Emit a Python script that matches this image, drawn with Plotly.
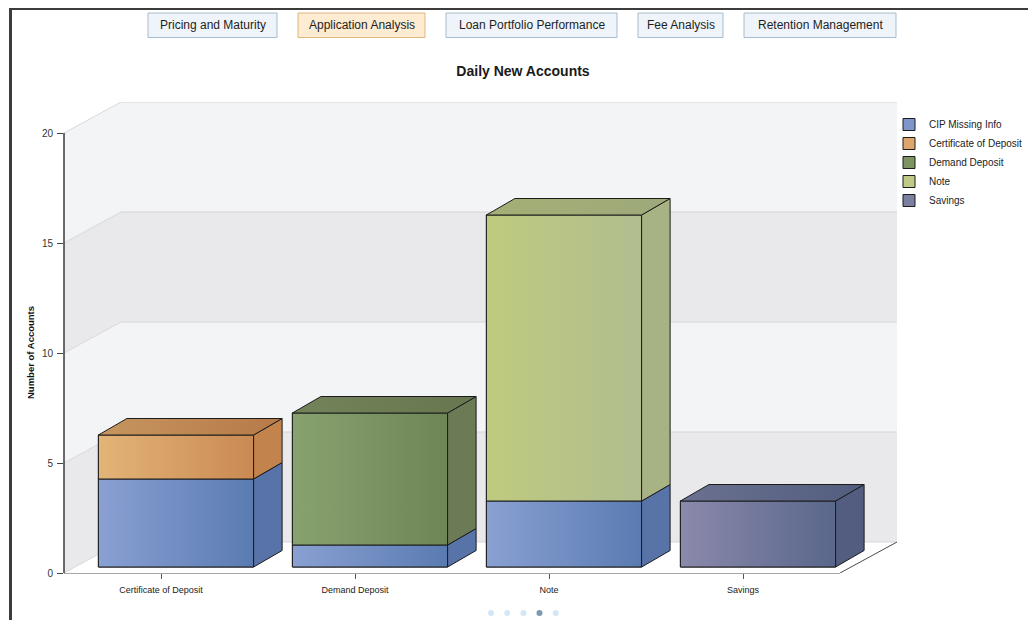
import plotly.graph_objects as go

# ---------------- data ----------------
categories = ["Certificate of Deposit", "Demand Deposit", "Note", "Savings"]
series_names = ["CIP Missing Info", "Certificate of Deposit", "Demand Deposit", "Note", "Savings"]
cip_missing_info = [4, 1, 3, 0]
certificate_of_deposit = [2, 0, 0, 0]
demand_deposit = [0, 6, 0, 0]
note = [0, 0, 13, 0]
savings = [0, 0, 0, 3]
y_ticks = [0, 5, 10, 15, 20]
nav_buttons = ["Pricing and Maturity", "Application Analysis", "Loan Portfolio Performance",
               "Fee Analysis", "Retention Management"]
active_button = "Application Analysis"
chart_title = "Daily New Accounts"
y_title = "Number of Accounts"

series_values = [cip_missing_info, certificate_of_deposit, demand_deposit, note, savings]

# ---------------- styles ----------------
styles = {
    "CIP Missing Info": dict(legend="#7f96cc", front=("#8aa0d3", "#5a7bb1"), side="#5873a7",
                             top=("#7d93c6", "#5b76aa")),
    "Certificate of Deposit": dict(legend="#dea56c", front=("#e3b478", "#ca8953"), side="#c3834d",
                                   top=("#c6955f", "#b67a48")),
    "Demand Deposit": dict(legend="#7b9462", front=("#88a26f", "#6e8556"), side="#6b7b55",
                           top=("#73845b", "#66774f")),
    "Note": dict(legend="#c0ca86", front=("#becb7e", "#b1bd8f"), side="#a8b384",
                 top=("#a4af76", "#9ea97a")),
    "Savings": dict(legend="#7b7fa2", front=("#8b89ac", "#59678a"), side="#525d7f",
                    top=("#6b7190", "#525d7e")),
}
FONT = "Liberation Sans, Arial, sans-serif"
EDGE = "#1c1c1c"

# ---------------- geometry ----------------
# page places the figure 8px from the top-left corner (body margin)
OFF = 8
W, H = 1036 - OFF, 620 - OFF
PX_X = 194.0      # pixels per category
PX_Y = 22.0       # pixels per account
L_PX, B_PX = 64 - OFF, 573 - OFF
DX = 57 / PX_X    # wall depth
DY = 31 / PX_Y
XMIN = -0.5
XMAX = len(categories) - 0.5
YMAX = max(y_ticks)
BW = 0.8
FX, FY = 15 / PX_X, 6 / PX_Y          # bar front offset into depth
SX, SY = 28.5 / PX_X, 16.5 / PX_Y     # bar depth
R_PX = L_PX + (XMAX + DX - XMIN) * PX_X
T_PX = B_PX - (YMAX + DY) * PX_Y


def xp(sx):
    """screen x (px) -> paper x"""
    return (sx - OFF - L_PX) / (R_PX - L_PX)


def yp(sy):
    """screen y (px) -> paper y"""
    return (B_PX - (sy - OFF)) / (B_PX - T_PX)


fig = go.Figure()

# ---------------- bars ----------------
stack = [0.0] * len(categories)
segments = []
for name, vals in zip(series_names, series_values):
    xs, ys, bs = [], [], []
    for i, v in enumerate(vals):
        if v > 0:
            xs.append(i + FX)
            ys.append(v)
            bs.append(stack[i] + FY)
            segments.append((name, i, stack[i], stack[i] + v))
            stack[i] += v
    fig.add_trace(go.Bar(
        x=xs, y=ys, base=bs, width=BW, name=name,
        marker=dict(color=styles[name]["legend"], line=dict(color=EDGE, width=1)),
        hovertemplate=name + ": %{y}<extra></extra>",
    ))

totals = stack
for name, i, b, t in segments:
    st = styles[name]
    xl = i - BW / 2 + FX
    xr = i + BW / 2 + FX
    yb = b + FY
    yt = t + FY
    # front face with gradient
    fig.add_trace(go.Scatter(
        x=[xl, xr, xr, xl, xl], y=[yb, yb, yt, yt, yb], mode="lines", fill="toself",
        fillgradient=dict(type="horizontal", colorscale=[[0, st["front"][0]], [1, st["front"][1]]]),
        line=dict(color=EDGE, width=1), showlegend=False, hoverinfo="skip"))
    # side face
    fig.add_trace(go.Scatter(
        x=[xr, xr + SX, xr + SX, xr, xr], y=[yb, yb + SY, yt + SY, yt, yb], mode="lines",
        fill="toself", fillcolor=st["side"], line=dict(color=EDGE, width=1),
        showlegend=False, hoverinfo="skip"))
    # top face for the topmost segment
    if abs(t - totals[i]) < 1e-9:
        fig.add_trace(go.Scatter(
            x=[xl, xr, xr + SX, xl + SX, xl], y=[yt, yt, yt + SY, yt + SY, yt], mode="lines",
            fill="toself",
            fillgradient=dict(type="horizontal", colorscale=[[0, st["top"][0]], [1, st["top"][1]]]),
            line=dict(color=EDGE, width=1), showlegend=False, hoverinfo="skip"))

# ---------------- walls (shapes below traces) ----------------
shapes = []
band_dark, band_light = "#e9e9eb", "#f3f4f6"
for k in range(len(y_ticks) - 1):
    v1, v2 = y_ticks[k], y_ticks[k + 1]
    col = band_dark if k % 2 == 0 else band_light
    shapes.append(dict(type="rect", xref="x", yref="y", x0=XMIN + DX, x1=XMAX + DX,
                       y0=v1 + DY, y1=v2 + DY, fillcolor=col, line=dict(width=0), layer="below"))
    shapes.append(dict(type="path", xref="x", yref="y",
                       path=f"M{XMIN},{v1} L{XMIN + DX},{v1 + DY} L{XMIN + DX},{v2 + DY} L{XMIN},{v2} Z",
                       fillcolor=col, line=dict(width=0), layer="below"))
# floor
shapes.append(dict(type="path", xref="x", yref="y",
                   path=f"M{XMIN},0 L{XMAX},0 L{XMAX + DX},{DY} L{XMIN + DX},{DY} Z",
                   fillcolor="#ffffff", line=dict(width=0), layer="below"))
for v in y_ticks:
    shapes.append(dict(type="line", xref="x", yref="y", x0=XMIN + DX, x1=XMAX + DX,
                       y0=v + DY, y1=v + DY, line=dict(color="#d6d6d8", width=1), layer="below"))
    shapes.append(dict(type="line", xref="x", yref="y", x0=XMIN, x1=XMIN + DX,
                       y0=v, y1=v + DY, line=dict(color="#d8d8da", width=1), layer="below"))
# floor edges and value axis line
shapes.append(dict(type="line", xref="x", yref="paper", x0=XMIN, x1=XMAX, y0=0, y1=0,
                   line=dict(color="#a8a8a8", width=2), layer="below"))
shapes.append(dict(type="line", xref="x", yref="y", x0=XMAX, x1=XMAX + DX, y0=0, y1=DY,
                   line=dict(color="#4a4a4a", width=1), layer="below"))
shapes.append(dict(type="line", xref="paper", yref="y", x0=0, x1=0, y0=0, y1=YMAX,
                   line=dict(color="#3a3a3a", width=1.5), layer="above"))

# ---------------- page frame ----------------
FRAME = "#3c3c3c"
shapes.append(dict(type="line", xref="paper", yref="paper", x0=xp(9), x1=xp(1036), y0=yp(8.6), y1=yp(8.6),
                   line=dict(color=FRAME, width=3)))
shapes.append(dict(type="line", xref="paper", yref="paper", x0=xp(10.5), x1=xp(10.5), y0=yp(8),
                   y1=yp(625), line=dict(color=FRAME, width=3)))
shapes.append(dict(type="line", xref="paper", yref="paper", x0=xp(1034.5), x1=xp(1034.5), y0=yp(8),
                   y1=yp(625), line=dict(color=FRAME, width=3)))

# ---------------- nav buttons ----------------
annotations = []
btn_boxes = [(148, 277), (298, 425), (446, 617), (638, 723), (744, 896)]
for label, (bx0, bx1) in zip(nav_buttons, btn_boxes):
    active = label == active_button
    shapes.append(dict(type="rect", xref="paper", yref="paper", x0=xp(bx0), x1=xp(bx1),
                       y0=yp(37.5), y1=yp(13),
                       fillcolor="#fdebd2" if active else "#eef4f9",
                       line=dict(color="#e0b67c" if active else "#a7bccc", width=1)))
    annotations.append(dict(xref="paper", yref="paper", x=xp((bx0 + bx1) / 2), y=yp(25.5),
                            text=label, showarrow=False, xanchor="center", yanchor="middle",
                            font=dict(family=FONT, size=12, color="#1e1e1e")))

# value axis title, centred on the 0-20 front axis
annotations.append(dict(xref="paper", yref="y", x=xp(30), y=YMAX / 2, text="<b>" + y_title + "</b>",
                        textangle=-90, showarrow=False, xanchor="center", yanchor="middle",
                        font=dict(family=FONT, size=9.5, color="#111111")))

# ---------------- pager dots ----------------
for k, dx in enumerate([491, 507.3, 523.5, 539.5, 555.7]):
    shapes.append(dict(type="circle", xref="paper", yref="paper", xsizemode="pixel", ysizemode="pixel",
                       xanchor=xp(dx), yanchor=yp(613), x0=-3, x1=3, y0=-3, y1=3,
                       fillcolor="#7b9ab4" if k == 3 else "#d5e7f4", line=dict(width=0)))

# ---------------- layout ----------------
fig.update_layout(
    width=W, height=H,
    margin=dict(l=L_PX, r=W - R_PX, t=T_PX, b=H - B_PX, autoexpand=False),
    paper_bgcolor="#ffffff", plot_bgcolor="#ffffff",
    barmode="overlay",
    font=dict(family=FONT, size=10, color="#333333"),
    title=dict(text="<b>" + chart_title + "</b>", x=(523 - OFF) / W, xref="container", xanchor="center",
               y=1 - (71 - OFF) / H, yref="container", yanchor="middle",
               font=dict(family=FONT, size=14, color="#1a1a1a")),
    xaxis=dict(range=[XMIN, XMAX + DX], tickvals=list(range(len(categories))), ticktext=categories,
               ticks="outside", ticklen=5, tickcolor="#555555", showgrid=False, zeroline=False,
               showline=False, tickfont=dict(size=9, color="#222222"), ticklabelstandoff=3,
               fixedrange=True),
    yaxis=dict(range=[0, YMAX + DY], tickvals=y_ticks, ticks="outside", ticklen=6, tickcolor="#444444",
               showgrid=False, zeroline=False, showline=False, tickfont=dict(size=10, color="#333333"),
               ticklabelstandoff=2, fixedrange=True),
    legend=dict(x=xp(889), y=yp(110), xanchor="left", yanchor="top", bgcolor="rgba(0,0,0,0)",
                font=dict(size=10, color="#222222"), traceorder="normal"),
    shapes=shapes,
    annotations=annotations,
    hovermode="closest",
)

fig.write_html("out.html")
